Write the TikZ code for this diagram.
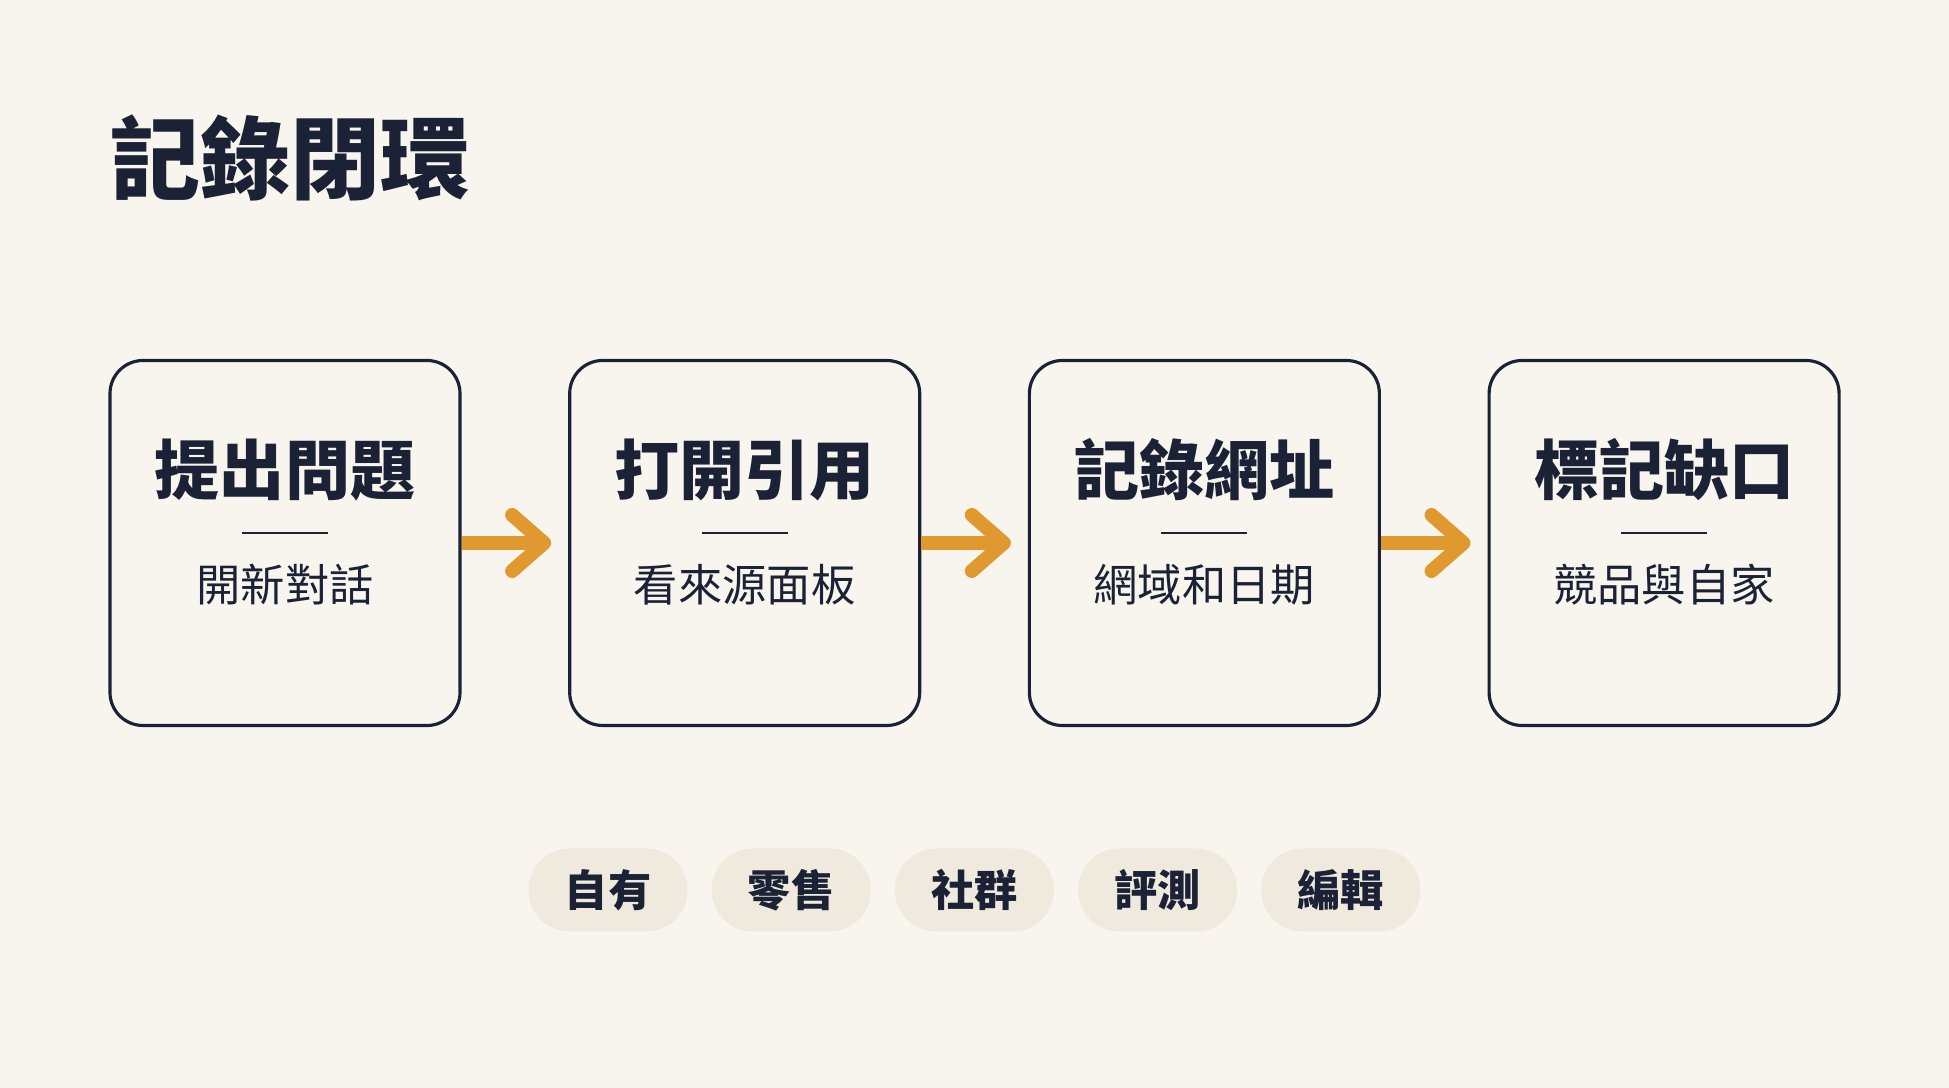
\documentclass[tikz,border=0pt]{standalone}
\usepackage{fontspec}
\newfontfamily\cjk{Noto Sans CJK TC}
\usetikzlibrary{arrows.meta,positioning}
\definecolor{fundo}{HTML}{F8F5EF}
\definecolor{marinho}{HTML}{1B2236}
\definecolor{laranja}{HTML}{E0992F}
\definecolor{bege}{HTML}{F0EADE}
\begin{document}
\begin{tikzpicture}[x=0.1mm,y=-0.1mm,
	caixa/.style={draw=marinho, line width=0.9pt, rounded corners=3.3mm, minimum width=35mm, minimum height=36.5mm, inner sep=0pt},
	titulo/.style={text=marinho, inner sep=0pt, font=\cjk\bfseries\fontsize{18.5pt}{22pt}\selectfont},
	sub/.style={text=marinho, inner sep=0pt, font=\cjk\fontsize{12.6pt}{15pt}\selectfont},
	traco/.style={draw=marinho, line width=0.6pt},
	seta/.style={draw=laranja, line width=1.4mm, shorten >=1.7mm, -{Straight Barb[length=3.2mm, width=5.6mm, round]}},
	pilula/.style={fill=bege, rounded corners=4.1mm, minimum width=15.9mm, minimum height=8.3mm, inner sep=0pt, text=marinho, font=\cjk\bfseries\fontsize{12.3pt}{15pt}\selectfont}]
	\fill[fundo] (0,0) rectangle (1949,1088);
	
	% Titulo
	\node[text=marinho, inner sep=0pt, anchor=west, font=\cjk\bfseries\fontsize{25.6pt}{30pt}\selectfont] (tit) at (110,158) {記錄閉環};
	
	% Caixas
	\foreach \i/\t/\s in {1/提出問題/開新對話, 2/打開引用/看來源面板, 3/記錄網址/網域和日期, 4/標記缺口/競品與自家}{
		\node[caixa] (b\i) at ({285+459.7*(\i-1)},543) {};
		\node[titulo] (t\i) at ([yshift=7.3mm]b\i.center) {\t};
		\draw[traco] ([xshift=-4.3mm,yshift=1mm]b\i.center) -- ([xshift=4.3mm,yshift=1mm]b\i.center);
		\node[sub] (s\i) at ([yshift=-4.2mm]b\i.center) {\s};
	}
	
	% Setas
	\foreach \i/\j in {1/2,2/3,3/4}{
		\draw[seta] (b\i.east) -- (b\j.west);
	}
	
	% Rotulos
	\foreach \i/\p in {1/自有,2/零售,3/社群,4/評測,5/編輯}{
		\node[pilula] (p\i) at ({608+183.2*(\i-1)},890) {\p};
	}
\end{tikzpicture}
\end{document}
